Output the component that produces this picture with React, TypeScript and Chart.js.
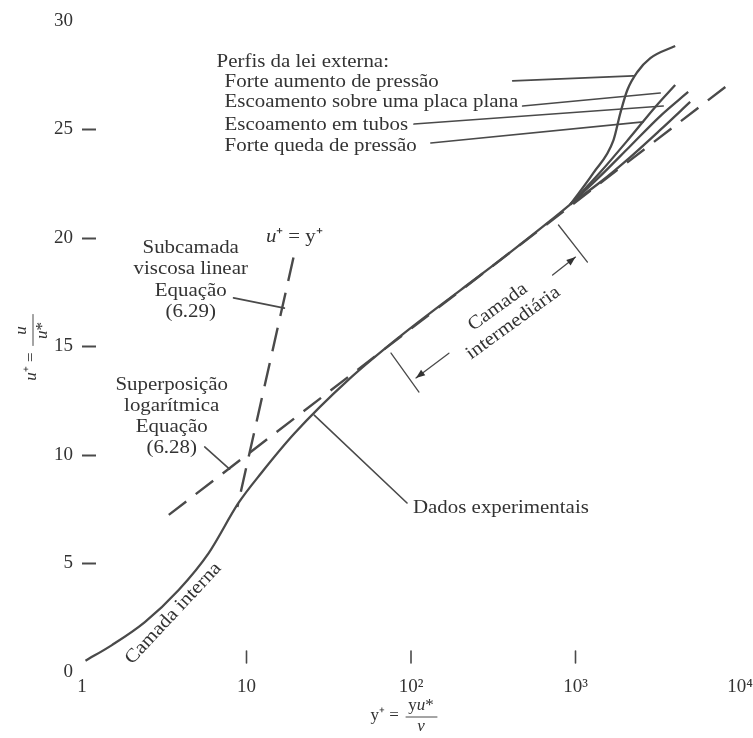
import React, { useEffect, useRef } from "react";
import { Chart, registerables } from "chart.js";

Chart.register(...registerables);

const FONT = "'Liberation Serif', 'Times New Roman', Times, serif";
const INK = "#333333";
const LINE = "#4a4a4a";
const TEXT_SIZE = 19;
const STRETCH = 1.1;

// ---- axes ----
const xTickValues = [1, 10, 100, 1000, 10000];
const xTickLabels = ["1", "10", "10²", "10³", "10⁴"];
const xMarkedTicks = [10, 100, 1000];
const yTickValues = [0, 5, 10, 15, 20, 25, 30];
const yBareTicks = [0, 30];

// ---- experimental data (common trunk) ----
const expYPlus = [1.05, 1.52, 2.41, 3.87, 5.89, 8.94, 12.3, 19.6, 41.6, 87, 200, 351, 703, 930];
const expUPlus = [0.52, 1.24, 2.3, 3.78, 5.48, 7.79, 9.17, 11.0, 13.46, 15.5, 17.6, 19.0, 20.8, 21.55];

// ---- outer-law profiles ----
const adverseYPlus = [930, 1285, 1700, 1874, 2066, 2376, 2851, 4036];
const adverseUPlus = [21.55, 23.0, 24.5, 25.76, 26.82, 27.65, 28.29, 28.85];
const flatPlateYPlus = [930, 1418, 2154, 3055, 4036];
const flatPlateUPlus = [21.55, 23.04, 24.65, 26.04, 27.05];
const pipeYPlus = [930, 1418, 2154, 3275, 4841];
const pipeUPlus = [21.55, 22.86, 24.24, 25.62, 26.73];
const favorableYPlus = [930, 1418, 2154, 3275, 4977];
const favorableUPlus = [21.55, 22.58, 23.73, 24.98, 26.27];

// ---- reference laws (dashed) ----
const logLawYPlus = [3.37, 8960];
const logLawUPlus = [7.24, 27.2];
const viscousYPlus = [19.3, 8.8];
const viscousUPlus = [19.1, 7.6];

// ---- annotations (data coordinates: [y+, u+]) ----
const outerTitle = "Perfis da lei externa:";
const outerTitleAt = [6.58, 28.12];
const outerLabels = [
  "Forte aumento de pressão",
  "Escoamento sobre uma placa plana",
  "Escoamento em tubos",
  "Forte queda de pressão",
];
const outerLabelYPlus = 7.36;
const outerLabelUPlus = [27.19, 26.27, 25.21, 24.24];
const outerLeaderStart = [[415, 27.24], [477, 26.08], [104.3, 25.25], [132, 24.38]];
const outerLeaderEnd = [[2248, 27.47], [3275, 26.68], [3415, 26.08], [2583, 25.35]];

const viscousNote = ["Subcamada", "viscosa linear", "Equação", "(6.29)"];
const viscousNoteAt = [4.58, 19.54];
const viscousLeader = [[8.34, 17.24], [17.0, 16.77]];
const viscousEqAt = [19.5, 20.05];

const logNote = ["Superposição", "logarítmica", "Equação", "(6.28)"];
const logNoteAt = [3.51, 13.23];
const logLeader = [[5.57, 10.37], [7.89, 9.35]];

const dataNote = "Dados experimentais";
const dataNoteAt = [102.8, 7.56];
const dataLeader = [[25.8, 11.84], [94.6, 7.79]];

const innerNote = "Camada interna";
const innerNoteAt = [3.59, 2.7];
const innerNoteAngle = -47;

const overlapNote = ["Camada", "intermediária"];
const overlapNoteAt = [337, 16.82];
const overlapNoteAngle = -36;
const overlapBracketLow = [[75.6, 14.7], [111.8, 12.9]];
const overlapArrowLow = [[170, 14.69], [107.2, 13.55]];
const overlapBracketHigh = [[788, 20.6], [1182, 18.89]];
const overlapArrowHigh = [[726, 18.29], [1000, 19.12]];

type Run = [string, boolean];

function pts(xs: number[], ys: number[]) {
  return xs.map((v, i) => ({ x: v, y: ys[i] }));
}

function drawRuns(ctx: CanvasRenderingContext2D, runs: Run[], align: string, size: number) {
  const fonts = runs.map(([, it]) => `${it ? "italic " : ""}${size}px ${FONT}`);
  let total = 0;
  const widths = runs.map(([t], i) => {
    ctx.font = fonts[i];
    const w = ctx.measureText(t).width;
    total += w;
    return w;
  });
  let cx = align === "left" ? 0 : align === "center" ? -total / 2 : -total;
  ctx.textAlign = "left";
  ctx.textBaseline = "middle";
  runs.forEach(([t], i) => {
    ctx.font = fonts[i];
    ctx.fillText(t, cx, 0);
    cx += widths[i];
  });
}

const annotationPlugin = {
  id: "figureNotes",
  afterDatasetsDraw(chart: any) {
    const { ctx, chartArea } = chart;
    const xs = chart.scales.x;
    const ys = chart.scales.y;
    const P = (d: number[]) => [xs.getPixelForValue(d[0]), ys.getPixelForValue(d[1])];

    const seg = (a: number[], b: number[]) => {
      const [x1, y1] = P(a);
      const [x2, y2] = P(b);
      ctx.beginPath();
      ctx.moveTo(x1, y1);
      ctx.lineTo(x2, y2);
      ctx.stroke();
    };
    const arrow = (a: number[], b: number[]) => {
      seg(a, b);
      const [x1, y1] = P(a);
      const [x2, y2] = P(b);
      const an = Math.atan2(y2 - y1, x2 - x1);
      const L = 9, W = 3.5;
      ctx.beginPath();
      ctx.moveTo(x2, y2);
      ctx.lineTo(x2 - L * Math.cos(an) + W * Math.sin(an), y2 - L * Math.sin(an) - W * Math.cos(an));
      ctx.lineTo(x2 - L * Math.cos(an) - W * Math.sin(an), y2 - L * Math.sin(an) + W * Math.cos(an));
      ctx.closePath();
      ctx.fill();
    };
    const text = (runs: Run[], px: number, py: number, align: string, angleDeg = 0, size = TEXT_SIZE) => {
      ctx.save();
      ctx.translate(px, py);
      ctx.rotate((angleDeg * Math.PI) / 180);
      ctx.scale(STRETCH, 1);
      drawRuns(ctx, runs, align, size);
      ctx.restore();
    };
    const textAt = (str: string, d: number[], align: string, dy = 0) => {
      const [px, py] = P(d);
      text([[str, false]], px, py + dy, align);
    };

    ctx.save();
    ctx.strokeStyle = LINE;
    ctx.fillStyle = INK;
    ctx.lineWidth = 1.6;
    ctx.lineCap = "round";

    // x-axis decade marks
    xMarkedTicks.forEach((v) => {
      const px = xs.getPixelForValue(v);
      ctx.beginPath();
      ctx.moveTo(px, chartArea.bottom - 21);
      ctx.lineTo(px, chartArea.bottom - 9);
      ctx.stroke();
    });

    // outer law labels
    textAt(outerTitle, outerTitleAt, "left");
    outerLabels.forEach((s, i) => textAt(s, [outerLabelYPlus, outerLabelUPlus[i]], "left"));
    outerLeaderStart.forEach((a, i) => seg(a, outerLeaderEnd[i]));

    // viscous sublayer note
    viscousNote.forEach((s, i) => textAt(s, viscousNoteAt, "center", i * 21.3));
    seg(viscousLeader[0], viscousLeader[1]);
    {
      const [px, py] = P(viscousEqAt);
      text([["u", true], ["⁺ = y⁺", false]], px, py, "center");
    }

    // log overlap note
    logNote.forEach((s, i) => textAt(s, logNoteAt, "center", i * 21));
    seg(logLeader[0], logLeader[1]);

    // experimental data note
    textAt(dataNote, dataNoteAt, "left");
    seg(dataLeader[0], dataLeader[1]);

    // inner layer note
    {
      const [px, py] = P(innerNoteAt);
      text([[innerNote, false]], px, py, "center", innerNoteAngle);
    }

    // overlap layer note
    {
      const [px, py] = P(overlapNoteAt);
      const a = (overlapNoteAngle * Math.PI) / 180;
      overlapNote.forEach((s, i) => {
        const fx = i * 3, fy = i * 22;
        const sx = px + fx * Math.cos(a) - fy * Math.sin(a);
        const sy = py + fx * Math.sin(a) + fy * Math.cos(a);
        text([[s, false]], sx, sy, "center", overlapNoteAngle);
      });
    }
    ctx.lineWidth = 1.3;
    seg(overlapBracketLow[0], overlapBracketLow[1]);
    seg(overlapBracketHigh[0], overlapBracketHigh[1]);
    arrow(overlapArrowLow[0], overlapArrowLow[1]);
    arrow(overlapArrowHigh[0], overlapArrowHigh[1]);

    // x-axis title: y+ = y u* / nu
    {
      const cx = (chartArea.left + chartArea.right) / 2;
      const cy = chartArea.bottom + 44;
      ctx.save();
      ctx.translate(cx - 8, cy);
      drawRuns(ctx, [["y⁺ = ", false]], "right", 17);
      ctx.restore();
      ctx.save();
      ctx.translate(cx + 10, cy - 10);
      drawRuns(ctx, [["y", false], ["u", true], ["*", false]], "center", 17);
      ctx.restore();
      ctx.save();
      ctx.translate(cx + 10, cy + 11);
      drawRuns(ctx, [["ν", true]], "center", 17);
      ctx.restore();
      ctx.lineWidth = 1;
      ctx.beginPath();
      ctx.moveTo(cx - 5, cy + 1);
      ctx.lineTo(cx + 26, cy + 1);
      ctx.stroke();
    }

    // y-axis title: u+ = u / u*
    {
      const cx = chartArea.left - 50;
      const cy = (chartArea.top + chartArea.bottom) / 2 + 4;
      ctx.save();
      ctx.translate(cx, cy);
      ctx.rotate(-Math.PI / 2);
      ctx.save();
      ctx.translate(-2, 0);
      drawRuns(ctx, [["u", true], ["⁺ =", false]], "right", 17);
      ctx.restore();
      ctx.save();
      ctx.translate(20, -10);
      drawRuns(ctx, [["u", true]], "center", 17);
      ctx.restore();
      ctx.save();
      ctx.translate(20, 11);
      drawRuns(ctx, [["u", true], ["*", false]], "center", 17);
      ctx.restore();
      ctx.lineWidth = 1;
      ctx.beginPath();
      ctx.moveTo(5, 1);
      ctx.lineTo(36, 1);
      ctx.stroke();
      ctx.restore();
    }

    ctx.restore();
  },
};

const solid = (data: any[], label: string) => ({
  label,
  data,
  showLine: true,
  borderColor: LINE,
  borderWidth: 2.3,
  pointRadius: 0,
  fill: false,
  cubicInterpolationMode: "monotone" as const,
});

export default function App() {
  const ref = useRef<HTMLCanvasElement>(null);

  useEffect(() => {
    const canvas = ref.current;
    if (!canvas) return;
    const chart = new Chart(canvas, {
      type: "scatter",
      data: {
        datasets: [
          solid(pts(expYPlus, expUPlus), "Dados experimentais"),
          solid(pts(adverseYPlus, adverseUPlus), "Forte aumento de pressão"),
          solid(pts(flatPlateYPlus, flatPlateUPlus), "Escoamento sobre uma placa plana"),
          solid(pts(pipeYPlus, pipeUPlus), "Escoamento em tubos"),
          solid(pts(favorableYPlus, favorableUPlus), "Forte queda de pressão"),
          {
            label: "Superposição logarítmica (6.28)",
            data: pts(logLawYPlus, logLawUPlus),
            showLine: true,
            borderColor: LINE,
            borderWidth: 2.4,
            borderDash: [22, 12],
            pointRadius: 0,
            fill: false,
          },
          {
            label: "u+ = y+ (6.29)",
            data: pts(viscousYPlus, viscousUPlus),
            showLine: true,
            borderColor: LINE,
            borderWidth: 2.4,
            borderDash: [24, 12],
            pointRadius: 0,
            fill: false,
          },
        ],
      },
      options: {
        animation: false,
        responsive: true,
        maintainAspectRatio: false,
        devicePixelRatio: 1,
        events: [],
        layout: { padding: { top: 21, right: 13, bottom: 0, left: 0 } },
        plugins: { legend: { display: false }, tooltip: { enabled: false } },
        scales: {
          x: {
            type: "logarithmic",
            min: 1,
            max: 10000,
            border: { display: false },
            grid: { display: false, drawTicks: false, tickLength: 0 },
            afterBuildTicks: (scale: any) => {
              scale.ticks = xTickValues.map((v) => ({ value: v }));
            },
            afterFit: (scale: any) => {
              scale.height = 66;
              scale.paddingLeft = 0;
              scale.paddingRight = 0;
            },
            ticks: {
              autoSkip: false,
              maxRotation: 0,
              minRotation: 0,
              padding: 4,
              color: INK,
              font: { family: FONT, size: 19 },
              callback: (_v: any, i: number) => xTickLabels[i],
            },
          },
          y: {
            type: "linear",
            min: 0,
            max: 30,
            border: { display: false },
            grid: {
              display: true,
              drawOnChartArea: false,
              drawTicks: true,
              tickLength: -14,
              tickWidth: 2,
              tickColor: (c: any) =>
                c.tick && yBareTicks.includes(c.tick.value) ? "rgba(0,0,0,0)" : LINE,
            },
            afterBuildTicks: (scale: any) => {
              scale.ticks = yTickValues.map((v) => ({ value: v }));
            },
            afterFit: (scale: any) => {
              scale.width = 82;
              scale.paddingTop = 0;
              scale.paddingBottom = 0;
            },
            ticks: {
              padding: 23,
              color: INK,
              font: { family: FONT, size: 19 },
              callback: (v: any) => String(v),
            },
          },
        },
      },
      plugins: [annotationPlugin],
    });
    return () => chart.destroy();
  }, []);

  return (
    <div style={{ position: "absolute", left: 0, top: 0, width: 753, height: 738, background: "#fff" }}>
      <canvas ref={ref} />
    </div>
  );
}
